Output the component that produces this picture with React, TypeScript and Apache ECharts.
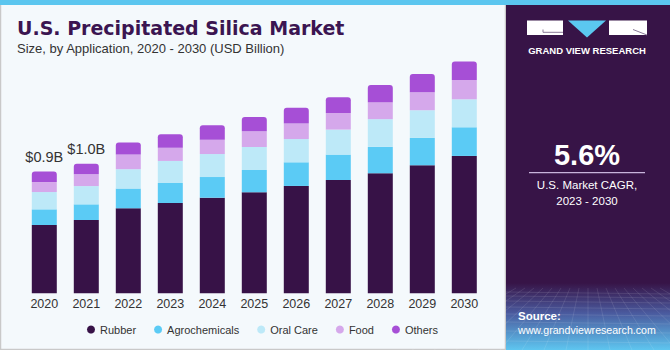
import React, { useEffect, useRef } from "react";
import * as echarts from "echarts";

const years = ["2020", "2021", "2022", "2023", "2024", "2025", "2026", "2027", "2028", "2029", "2030"];
const rubber = [0.505, 0.542, 0.629, 0.668, 0.707, 0.747, 0.794, 0.838, 0.888, 0.947, 1.016];
const agrochemicals = [0.116, 0.116, 0.146, 0.148, 0.153, 0.165, 0.175, 0.188, 0.195, 0.202, 0.212];
const oralCare = [0.128, 0.135, 0.143, 0.163, 0.170, 0.170, 0.172, 0.185, 0.205, 0.205, 0.207];
const food = [0.074, 0.087, 0.109, 0.098, 0.106, 0.116, 0.114, 0.123, 0.126, 0.133, 0.143];
const others = [0.077, 0.079, 0.089, 0.099, 0.107, 0.106, 0.118, 0.116, 0.126, 0.135, 0.136];
const totalLabels = ["$0.9B", "$1.0B"];

const seriesNames = ["Rubber", "Agrochemicals", "Oral Care", "Food", "Others"];
const seriesColors = ["#371247", "#5bcbf5", "#bde9f8", "#d5a8eb", "#a64fd6"];

const FONT = "'Liberation Sans', Arial, sans-serif";

export default function App() {
  const ref = useRef<HTMLDivElement>(null);
  useEffect(() => {
    document.body.style.margin = "0";
    if (!ref.current) return;
    const chart = echarts.init(ref.current, null, { renderer: "svg" });
    const dataSets = [rubber, agrochemicals, oralCare, food, others];
    const series = dataSets.map((arr, si) => ({
      name: seriesNames[si],
      type: "bar",
      stack: "total",
      barWidth: 25,
      itemStyle: {
        color: seriesColors[si],
        borderRadius: si === 4 ? [3, 3, 0, 0] : 0,
      },
      data: arr.map((v, i) =>
        si === 4 && i < totalLabels.length
          ? {
              value: v,
              label: {
                show: true,
                position: "top",
                distance: 7,
                formatter: totalLabels[i],
                fontSize: 14.5,
                color: "#333333",
                fontFamily: FONT,
              },
            }
          : v
      ),
    }));

    // decorative mesh for the source block
    const mesh: any[] = [];
    const hy = [292, 296, 301, 307, 314, 322, 331, 341];
    hy.forEach((y) =>
      mesh.push({ type: "line", shape: { x1: 506, y1: y, x2: 670, y2: y + 2 }, style: { stroke: "rgba(255,255,255,0.13)", lineWidth: 0.8 }, z: -7 })
    );
    for (let k = -8; k <= 8; k++) {
      const xt = 588 + k * 9;
      const xb = 588 + k * 22;
      mesh.push({ type: "line", shape: { x1: xt, y1: 288, x2: xb, y2: 350 }, style: { stroke: "rgba(255,255,255,0.13)", lineWidth: 0.8 }, z: -7 });
    }

    const option: any = {
      animation: false,
      backgroundColor: "transparent",
      grid: { left: 23.3, width: 462, top: 22.9, height: 270.4 },
      xAxis: {
        type: "category",
        data: years,
        axisLine: { show: false },
        axisTick: { show: false },
        axisLabel: { color: "#333333", fontSize: 12.5, fontFamily: FONT, margin: 4 },
      },
      yAxis: { type: "value", min: 0, max: 2, show: false, splitLine: { show: false } },
      legend: {
        left: 82,
        top: 319,
        icon: "circle",
        itemWidth: 8,
        itemHeight: 8,
        itemGap: 18,
        textStyle: { color: "#333333", fontSize: 11, fontFamily: FONT },
        data: seriesNames,
      },
      series,
      graphic: [
        { type: "rect", shape: { x: 0, y: 0, width: 670, height: 350 }, style: { fill: "#f4f9fc" }, z: -10 },
        { type: "rect", shape: { x: 0.5, y: 4, width: 505, height: 345.5 }, style: { fill: "#f4f9fc", stroke: "#c9c9c9", lineWidth: 1.5 }, z: -9 },
        { type: "rect", shape: { x: 0, y: 0, width: 670, height: 5 }, style: { fill: "#5bc6ef" }, z: -8 },
        { type: "rect", shape: { x: 506, y: 5, width: 164, height: 280 }, style: { fill: "#371447" }, z: -8 },
        {
          type: "rect",
          shape: { x: 506, y: 283, width: 164, height: 67 },
          style: {
            fill: new echarts.graphic.LinearGradient(0, 0, 0, 1, [
              { offset: 0, color: "#371447" },
              { offset: 0.45, color: "#4a5a9e" },
              { offset: 1, color: "#5ec6f0" },
            ]),
          },
          z: -8,
        },
        ...mesh,
        // logo
        { type: "rect", shape: { x: 527, y: 20.5, width: 36, height: 14.5 }, style: { fill: "#ffffff" }, z: 5 },
        { type: "polyline", shape: { points: [[543, 29.5], [543, 32.3], [563, 32.3]] }, style: { stroke: "#8a7a98", lineWidth: 1, fill: "none" }, z: 6 },
        { type: "polygon", shape: { points: [[568, 20.5], [606, 20.5], [587, 37.5]] }, style: { fill: "#5bc8f0" }, z: 5 },
        { type: "rect", shape: { x: 609, y: 20.5, width: 38, height: 14.5 }, style: { fill: "#ffffff" }, z: 5 },
        { type: "line", shape: { x1: 633, y1: 29.5, x2: 647, y2: 35 }, style: { stroke: "#8a7a98", lineWidth: 1 }, z: 6 },
        {
          type: "text", x: 587, y: 50, z: 6,
          style: { text: "GRAND VIEW RESEARCH", fill: "#ffffff", font: `bold 9.5px ${FONT}`, align: "center", textAlign: "center", verticalAlign: "middle", textVerticalAlign: "middle" },
        },
        {
          type: "text", x: 587, y: 155, z: 6,
          style: { text: "5.6%", fill: "#ffffff", font: `bold 29px ${FONT}`, align: "center", textAlign: "center", verticalAlign: "middle", textVerticalAlign: "middle" },
        },
        { type: "line", shape: { x1: 529, y1: 172.7, x2: 645, y2: 172.7 }, style: { stroke: "#c8b4dc", lineWidth: 1.2 }, z: 6 },
        {
          type: "text", x: 587, y: 184.5, z: 6,
          style: { text: "U.S. Market CAGR,", fill: "#ffffff", font: `11.5px ${FONT}`, align: "center", textAlign: "center", verticalAlign: "middle", textVerticalAlign: "middle" },
        },
        {
          type: "text", x: 587, y: 200.5, z: 6,
          style: { text: "2023 - 2030", fill: "#ffffff", font: `11.5px ${FONT}`, align: "center", textAlign: "center", verticalAlign: "middle", textVerticalAlign: "middle" },
        },
        {
          type: "text", x: 518, y: 316, z: 6,
          style: { text: "Source:", fill: "#ffffff", font: `bold 11.5px ${FONT}`, align: "left", textAlign: "left", verticalAlign: "middle", textVerticalAlign: "middle" },
        },
        {
          type: "text", x: 518, y: 330, z: 6,
          style: { text: "www.grandviewresearch.com", fill: "#ffffff", font: `10.6px ${FONT}`, align: "left", textAlign: "left", verticalAlign: "middle", textVerticalAlign: "middle" },
        },
        // titles
        {
          type: "text", x: 17, y: 28, z: 6,
          style: { text: "U.S. Precipitated Silica Market", fill: "#3b1551", font: `bold 19px 'DejaVu Sans', sans-serif`, align: "left", textAlign: "left", verticalAlign: "middle", textVerticalAlign: "middle" },
        },
        {
          type: "text", x: 17, y: 48, z: 6,
          style: { text: "Size, by Application, 2020 - 2030 (USD Billion)", fill: "#333333", font: `13px ${FONT}`, align: "left", textAlign: "left", verticalAlign: "middle", textVerticalAlign: "middle" },
        },
      ],
    };
    chart.setOption(option);
    return () => chart.dispose();
  }, []);
  return <div ref={ref} style={{ width: 670, height: 350 }} />;
}
